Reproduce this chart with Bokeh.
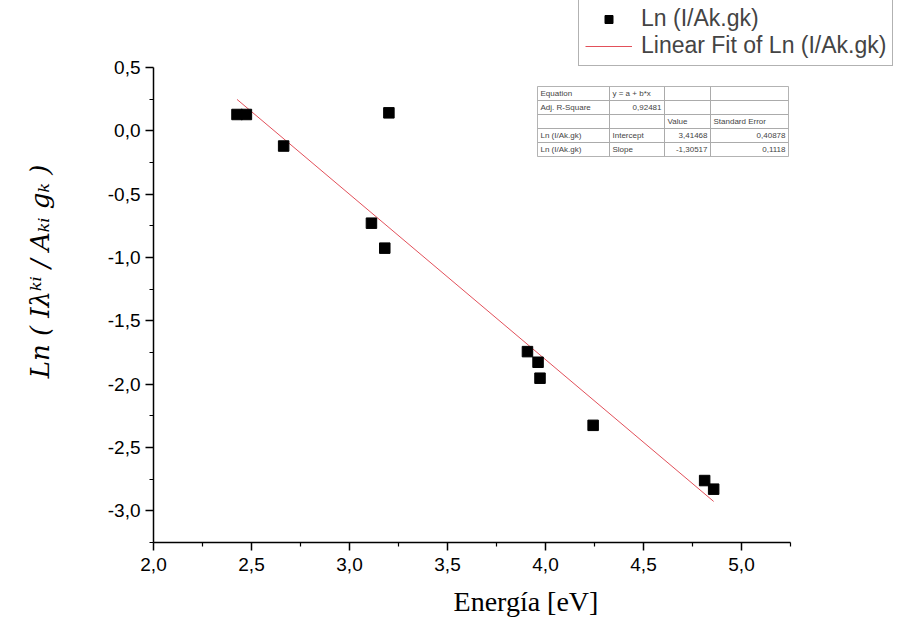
from bokeh.plotting import figure
from bokeh.models import Range1d, FixedTicker, Legend, LegendItem
from bokeh.embed import file_html
from bokeh.resources import INLINE
from bokeh.core.properties import value

# ---------------- data ----------------
energy = [2.426, 2.474, 2.664, 3.201, 3.112, 3.180, 3.908, 3.962, 3.972, 4.243, 4.812, 4.858]
ln_ratio = [0.129, 0.129, -0.120, 0.142, -0.729, -0.926, -1.743, -1.827, -1.953, -2.325, -2.761, -2.829]

fit_intercept = 3.41468
fit_slope = -1.30517

x_ticks = [2.0, 2.5, 3.0, 3.5, 4.0, 4.5, 5.0]
x_tick_labels = ["2,0", "2,5", "3,0", "3,5", "4,0", "4,5", "5,0"]
x_minor = [2.25, 2.75, 3.25, 3.75, 4.25, 4.75, 5.25]
y_ticks = [0.5, 0.0, -0.5, -1.0, -1.5, -2.0, -2.5, -3.0]
y_tick_labels = ["0,5", "0,0", "-0,5", "-1,0", "-1,5", "-2,0", "-2,5", "-3,0"]
y_minor = [0.25, -0.25, -0.75, -1.25, -1.75, -2.25, -2.75, -3.25]

table_rows = [
    ["Equation", "y = a + b*x", "", ""],
    ["Adj. R-Square", "0,92481", "", ""],
    ["", "", "Value", "Standard Error"],
    ["Ln (I/Ak.gk)", "Intercept", "3,41468", "0,40878"],
    ["Ln (I/Ak.gk)", "Slope", "-1,30517", "0,1118"],
]
series_label = "Ln (I/Ak.gk)"
fit_label = "Linear Fit of Ln (I/Ak.gk)"
x_title = "Energía [eV]"
y_title = "Ln ( Iλᵏⁱ / Aₖᵢ gₖ )"

# ---------------- layout ----------------
W, H = 898, 627
FL, FT, FW, FH = 153, 67, 637, 475          # axes box in pixels
AX = (2.0, 5.25)                             # x axis extent
AY = (-3.25, 0.5)                            # y axis extent
ux = (AX[1] - AX[0]) / FW                    # data units per pixel
uy = (AY[1] - AY[0]) / FH
# frame reaches the top and right edges so the legend (outside the axes box) is not clipped
XR = (AX[0], AX[0] + (W - FL) * ux)
YR = (AY[0], AY[0] + (FT + FH) * uy)

p = figure(width=W, height=H, output_backend="svg", toolbar_location=None,
           x_range=Range1d(*XR), y_range=Range1d(*YR),
           min_border_left=FL, min_border_top=0,
           min_border_right=0, min_border_bottom=H - FT - FH)
p.outline_line_color = None
p.grid.visible = False
p.background_fill_color = "white"
p.border_fill_color = "white"

for ax, ticks, labels, minor, bnds in ((p.xaxis[0], x_ticks, x_tick_labels, x_minor, AX),
                                        (p.yaxis[0], y_ticks, y_tick_labels, y_minor, AY)):
    ax.bounds = bnds
    ax.ticker = FixedTicker(ticks=ticks, minor_ticks=minor)
    ax.major_label_overrides = {t: l for t, l in zip(ticks, labels)}
    ax.axis_line_color = "black"
    ax.axis_line_width = 1.5
    ax.major_tick_line_color = "black"
    ax.minor_tick_line_color = "black"
    ax.major_tick_line_width = 1.5
    ax.minor_tick_line_width = 1.2
    ax.major_tick_out = 8
    ax.major_tick_in = 0
    ax.minor_tick_out = 4
    ax.minor_tick_in = 0
    ax.major_label_text_font = "Liberation Sans"
    ax.major_label_text_font_size = "19px"
    ax.major_label_text_color = "black"
    ax.axis_label_text_color = "black"
p.xaxis.major_label_standoff = 7
p.yaxis.major_label_standoff = 5

p.xaxis.axis_label = x_title
p.xaxis.axis_label_text_font = "Liberation Serif"
p.xaxis.axis_label_text_font_style = "normal"
p.xaxis.axis_label_text_font_size = "28px"
p.xaxis.axis_label_standoff = 12

p.yaxis.axis_label = y_title
p.yaxis.axis_label_text_font = "DejaVu Serif"
p.yaxis.axis_label_text_font_style = "italic"
p.yaxis.axis_label_text_font_size = "26px"
p.yaxis.axis_label_standoff = 50


def px_to_x(px):
    return AX[0] + (px - FL) * ux


def px_to_y(py):
    return AY[1] - (py - FT) * uy


# ---------------- inset table ----------------
col_px = [537, 609, 664, 710, 788]
row_px = [86, 100, 114, 128, 142, 156]
left, right, top, bottom = [], [], [], []
for r in range(len(table_rows)):
    for c in range(4):
        left.append(px_to_x(col_px[c]))
        right.append(px_to_x(col_px[c + 1]))
        top.append(px_to_y(row_px[r]))
        bottom.append(px_to_y(row_px[r + 1]))
p.quad(left=left, right=right, top=top, bottom=bottom, fill_color="white",
       line_color="#a0a0a0", line_width=0.8)

right_aligned = {(1, 1), (3, 2), (3, 3), (4, 2), (4, 3)}
tx, ty, tt, ta = [], [], [], []
for r, row in enumerate(table_rows):
    for c, txt in enumerate(row):
        if not txt:
            continue
        yc = px_to_y((row_px[r] + row_px[r + 1]) / 2)
        if (r, c) in right_aligned:
            tx.append(px_to_x(col_px[c + 1] - 3)); ta.append("right")
        else:
            tx.append(px_to_x(col_px[c] + 3)); ta.append("left")
        ty.append(yc); tt.append(txt)
p.text(x=tx, y=ty, text=tt, text_align=ta, text_baseline="middle",
       text_font=value("Liberation Sans"), text_font_size="8px", text_color="#444444")

# ---------------- data & fit ----------------
xf = [min(energy), max(energy)]
yf = [fit_intercept + fit_slope * v for v in xf]
fit_r = p.line(xf, yf, line_color="#e2505a", line_width=1)
pts_r = p.scatter(energy, ln_ratio, marker="square", size=10.5, color="black")

legend = Legend(items=[LegendItem(label=series_label, renderers=[pts_r]),
                       LegendItem(label=fit_label, renderers=[fit_r])],
                location=(578 - FL, FT + FH - 66), margin=0, padding=6,
                spacing=0, glyph_width=47, glyph_height=20, label_height=20,
                label_standoff=9, label_text_font="Liberation Sans",
                label_text_font_size="23px", border_line_color="#666666",
                border_line_width=1, background_fill_color="white")
p.add_layout(legend)

open("out.html", "w").write(file_html(p, INLINE))
